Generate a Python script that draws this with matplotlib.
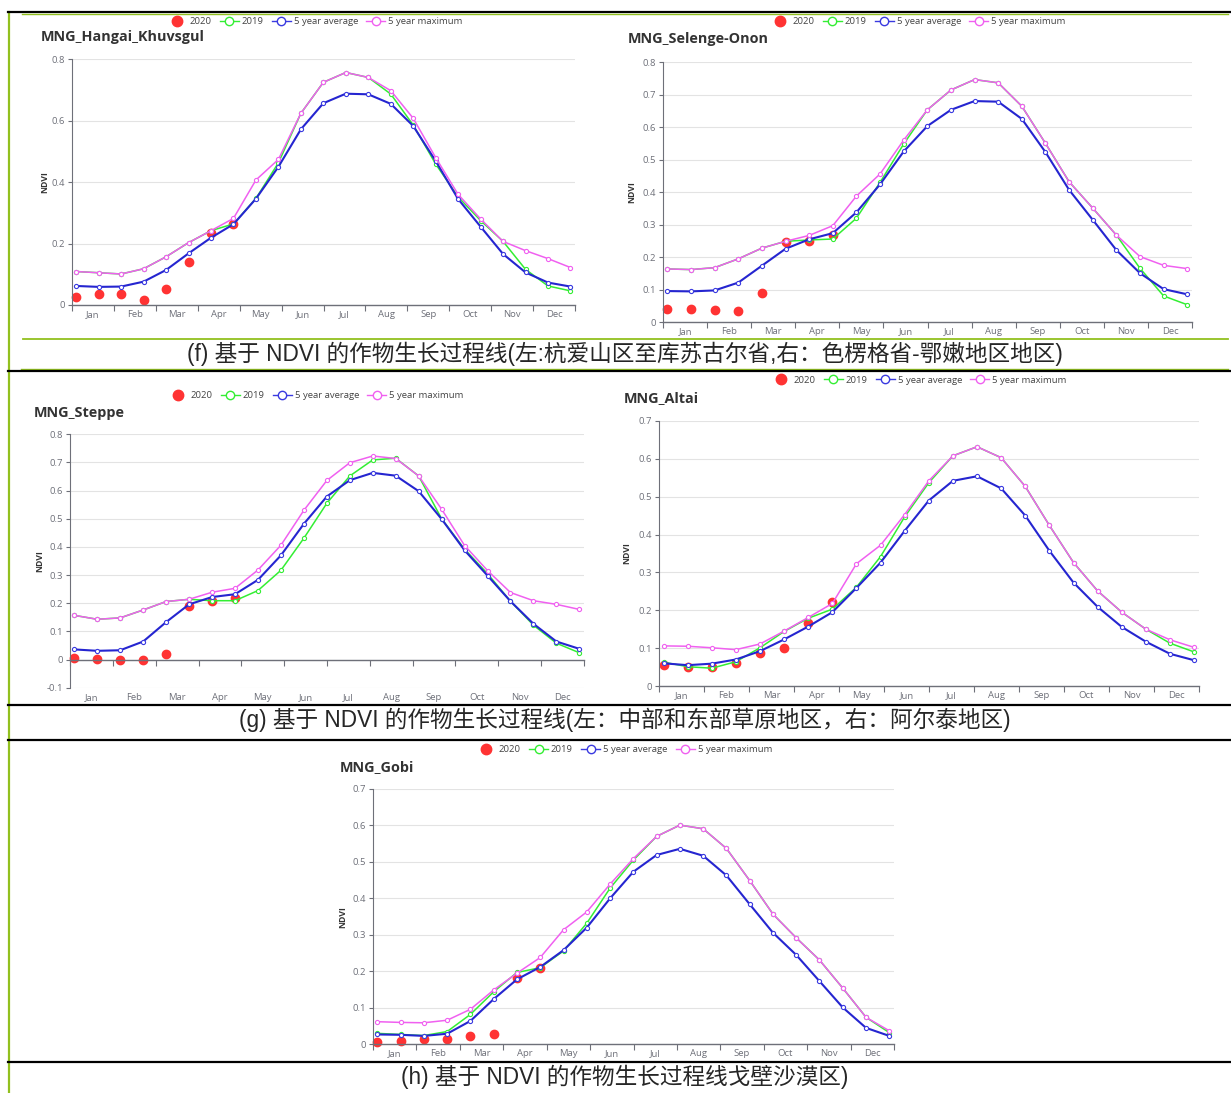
import numpy as np
import matplotlib
matplotlib.use('Agg')
import matplotlib.pyplot as plt
import matplotlib.transforms as mtransforms
from matplotlib.lines import Line2D

plt.rcParams['font.family'] = ['Open Sans', 'DejaVu Sans']
plt.rcParams['axes.unicode_minus'] = False

months = ['Jan', 'Feb', 'Mar', 'Apr', 'May', 'Jun', 'Jul', 'Aug', 'Sep', 'Oct', 'Nov', 'Dec']
legend_labels = ['2020', '2019', '5 year average', '5 year maximum']

# 23 sixteen-day NDVI composites per year, 2020 only has the first 8
hangai_2020 = [0.025, 0.035, 0.036, 0.015, 0.051, 0.141, 0.233, 0.264]
hangai_2019 = [0.109, 0.105, 0.101, 0.118, 0.157, 0.203, 0.242, 0.264, 0.347, 0.463, 0.624, 0.725,
               0.757, 0.741, 0.687, 0.586, 0.459, 0.352, 0.275, 0.207, 0.116, 0.062, 0.046]
hangai_avg = [0.062, 0.059, 0.060, 0.076, 0.114, 0.168, 0.219, 0.263, 0.346, 0.450, 0.572, 0.657,
              0.688, 0.686, 0.655, 0.583, 0.469, 0.345, 0.255, 0.166, 0.106, 0.073, 0.060]
hangai_max = [0.109, 0.105, 0.101, 0.118, 0.157, 0.203, 0.242, 0.282, 0.407, 0.474, 0.624, 0.725,
              0.757, 0.741, 0.698, 0.608, 0.480, 0.360, 0.280, 0.207, 0.177, 0.151, 0.122]

selenge_2020 = [0.041, 0.040, 0.038, 0.034, 0.089, 0.246, 0.251, 0.268]
selenge_2019 = [0.164, 0.162, 0.168, 0.195, 0.228, 0.249, 0.253, 0.256, 0.320, 0.430, 0.548, 0.653,
                0.714, 0.746, 0.736, 0.664, 0.550, 0.432, 0.351, 0.268, 0.166, 0.081, 0.054]
selenge_avg = [0.096, 0.095, 0.098, 0.122, 0.174, 0.226, 0.255, 0.274, 0.338, 0.424, 0.525, 0.603,
               0.653, 0.680, 0.678, 0.625, 0.523, 0.407, 0.315, 0.222, 0.151, 0.102, 0.086]
selenge_max = [0.164, 0.162, 0.168, 0.195, 0.228, 0.249, 0.267, 0.297, 0.388, 0.456, 0.560, 0.653,
               0.714, 0.746, 0.736, 0.664, 0.550, 0.432, 0.351, 0.268, 0.202, 0.175, 0.165]

steppe_2020 = [0.005, 0.001, -0.002, -0.002, 0.020, 0.191, 0.207, 0.219]
steppe_2019 = [0.157, 0.143, 0.148, 0.176, 0.206, 0.214, 0.209, 0.209, 0.245, 0.317, 0.431, 0.555,
               0.652, 0.709, 0.715, 0.652, 0.500, 0.392, 0.305, 0.207, 0.122, 0.058, 0.024]
steppe_avg = [0.036, 0.031, 0.033, 0.064, 0.133, 0.196, 0.222, 0.232, 0.283, 0.370, 0.482, 0.579,
              0.637, 0.663, 0.653, 0.598, 0.499, 0.388, 0.298, 0.207, 0.127, 0.064, 0.038]
steppe_max = [0.157, 0.143, 0.148, 0.176, 0.206, 0.214, 0.239, 0.253, 0.318, 0.406, 0.530, 0.636,
              0.699, 0.723, 0.714, 0.652, 0.534, 0.405, 0.316, 0.238, 0.209, 0.196, 0.178]

altai_2020 = [0.056, 0.049, 0.051, 0.060, 0.088, 0.101, 0.166, 0.223]
altai_2019 = [0.063, 0.051, 0.047, 0.064, 0.101, 0.144, 0.179, 0.203, 0.261, 0.342, 0.447, 0.537,
              0.608, 0.632, 0.603, 0.527, 0.424, 0.326, 0.251, 0.195, 0.150, 0.113, 0.090]
altai_avg = [0.060, 0.055, 0.059, 0.070, 0.092, 0.123, 0.157, 0.195, 0.259, 0.326, 0.410, 0.490,
             0.542, 0.554, 0.522, 0.450, 0.357, 0.273, 0.209, 0.156, 0.117, 0.085, 0.068]
altai_max = [0.106, 0.105, 0.101, 0.096, 0.111, 0.145, 0.181, 0.218, 0.323, 0.372, 0.453, 0.542,
             0.608, 0.632, 0.603, 0.527, 0.424, 0.326, 0.251, 0.195, 0.150, 0.122, 0.102]

gobi_2020 = [0.006, 0.010, 0.015, 0.015, 0.024, 0.027, 0.182, 0.209]
gobi_2019 = [0.030, 0.027, 0.024, 0.035, 0.082, 0.144, 0.197, 0.210, 0.256, 0.332, 0.428, 0.505,
             0.570, 0.601, 0.591, 0.537, 0.449, 0.357, 0.292, 0.231, 0.154, 0.074, 0.032]
gobi_avg = [0.027, 0.026, 0.023, 0.029, 0.064, 0.124, 0.178, 0.212, 0.258, 0.320, 0.400, 0.473,
            0.519, 0.536, 0.517, 0.463, 0.384, 0.306, 0.245, 0.173, 0.101, 0.045, 0.023]
gobi_max = [0.062, 0.060, 0.059, 0.066, 0.096, 0.149, 0.195, 0.238, 0.314, 0.363, 0.439, 0.509,
            0.570, 0.601, 0.591, 0.537, 0.449, 0.357, 0.292, 0.231, 0.154, 0.074, 0.037]

captions = ['(f) 基于 NDVI 的作物生长过程线(左:杭爱山区至库苏古尔省,右：色楞格省-鄂嫩地区地区)',
            '(g) 基于 NDVI 的作物生长过程线(左：中部和东部草原地区，右：阿尔泰地区)',
            '(h) 基于 NDVI 的作物生长过程线戈壁沙漠区)']

RED = '#ff3333'
GREEN = '#33ee33'
BLUE = '#2525d0'
PINK = '#f060f0'
AXIS = '#6e7079'
LINEGREEN = '#92c01f'

W, H = 1231, 1093
fig = plt.figure(figsize=(W / 100, H / 100), dpi=100)


def hline(y, x0, x1, color, lw):
    fig.add_artist(Line2D([x0 / W, x1 / W], [1 - y / H, 1 - y / H], color=color, lw=lw))


# page frame like the table in the source document
fig.add_artist(Line2D([8.7 / W, 8.7 / W], [1 - 12 / H, 0], color=LINEGREEN, lw=1.6))
hline(12, 8, W, 'black', 1.6)
hline(14, 22, 1228, LINEGREEN, 1.0)
hline(339, 23, 1228, LINEGREEN, 1.3)
hline(369, 21, 1228, LINEGREEN, 1.0)
hline(371, 8, W, 'black', 1.6)
hline(705, 8, W, 'black', 1.6)
hline(740, 8, W, 'black', 1.6)
hline(1062, 8, W, 'black', 1.6)

for txt, cy in zip(captions, [354, 720, 1077]):
    fig.text(625 / W, 1 - cy / H, txt, ha='center', va='center', fontsize=16.3, color='#262626',
             family=['Liberation Sans', 'Noto Sans CJK SC'])


def fmt(v):
    if abs(v) < 1e-9:
        return '0'
    return '%.1f' % v


def draw(title, box, ylim, ystep, title_xy, legend_xy, ylabel_x, s2020, s2019, savg, smax):
    left, right, top, bottom = box
    ax = fig.add_axes([left / W, 1 - bottom / H, (right - left) / W, (bottom - top) / H])
    x = 0.1 + 0.536 * np.arange(23)
    ax.plot(x[:len(s2020)], s2020, 'o', color=RED, ms=6, zorder=2, clip_on=False)
    ax.plot(x, s2019, color=GREEN, lw=1.1, marker='o', ms=3, mfc='white', mec=GREEN, mew=0.8,
            zorder=3, clip_on=False)
    ax.plot(x, savg, color=BLUE, lw=1.5, marker='o', ms=3, mfc='white', mec='#3a3ae0', mew=0.8,
            zorder=4, clip_on=False)
    ax.plot(x, smax, color=PINK, lw=1.1, marker='o', ms=3, mfc='white', mec=PINK, mew=0.8,
            zorder=5, clip_on=False)

    ax.set_xlim(0, 12)
    ax.set_ylim(*ylim)
    yt = np.round(np.arange(ylim[0], ylim[1] + 1e-9, ystep), 2)
    ax.set_yticks(yt)
    ax.set_yticklabels([fmt(v) for v in yt])
    ax.set_xticks(range(13))
    ax.set_xticklabels([])
    ax.grid(axis='y', color='#e3e3e3', lw=0.8)
    ax.set_axisbelow(True)
    for s in ['top', 'right']:
        ax.spines[s].set_visible(False)
    ax.spines['left'].set_color(AXIS)
    ax.spines['bottom'].set_color(AXIS)
    ax.spines['left'].set_linewidth(0.8)
    ax.spines['bottom'].set_linewidth(1.0)
    ax.spines['bottom'].set_position(('data', 0))
    ax.tick_params(axis='y', length=3, width=0.8, color=AXIS, labelcolor=AXIS, labelsize=6.8, pad=2)
    ax.tick_params(axis='x', length=4, width=0.8, color=AXIS)

    trans = mtransforms.offset_copy(ax.get_xaxis_transform(), fig=fig, y=-5, units='dots')
    for i, m in enumerate(months):
        ax.text(i + 0.5, 0, m, transform=trans, ha='center', va='top', fontsize=6.8, color=AXIS)

    fig.text(ylabel_x / W, 1 - (top + bottom) / 2 / H, 'NDVI', rotation=90, ha='center', va='center',
             fontsize=6.3, fontweight='bold', color='#333333')
    fig.text(title_xy[0] / W, 1 - title_xy[1] / H, title, ha='left', va='center', fontsize=10.4,
             fontweight='bold', color='#333333')

    handles = [Line2D([], [], ls='none', marker='o', ms=7.5, color=RED),
               Line2D([], [], color=GREEN, lw=1, marker='o', ms=6, mfc='white', mec=GREEN),
               Line2D([], [], color='#3a3ae0', lw=1, marker='o', ms=6, mfc='white', mec='#3a3ae0'),
               Line2D([], [], color=PINK, lw=1, marker='o', ms=6, mfc='white', mec=PINK)]
    ax.legend(handles, legend_labels, loc='center', bbox_to_anchor=(legend_xy[0] / W, 1 - legend_xy[1] / H),
              bbox_transform=fig.transFigure, ncol=4, frameon=False, fontsize=6.8, handlelength=2.0,
              handletextpad=0.3, columnspacing=0.9, borderaxespad=0, labelcolor='#444444')
    return ax


draw('MNG_Hangai_Khuvsgul', (72, 575, 59.3, 305), (0, 0.8), 0.2, (41, 37.3), (315, 21.7), 44.8,
     hangai_2020, hangai_2019, hangai_avg, hangai_max)
draw('MNG_Selenge-Onon', (663, 1192, 62, 322.3), (0, 0.8), 0.1, (628, 39.3), (918, 22), 631.4,
     selenge_2020, selenge_2019, selenge_avg, selenge_max)
draw('MNG_Steppe', (70, 584, 434.3, 687.7), (-0.1, 0.8), 0.1, (33.7, 412.7), (316, 395.7), 39.4,
     steppe_2020, steppe_2019, steppe_avg, steppe_max)
draw('MNG_Altai', (659, 1199, 421, 686), (0, 0.7), 0.1, (624, 397.7), (919, 380.3), 626.6,
     altai_2020, altai_2019, altai_avg, altai_max)
draw('MNG_Gobi', (373, 894, 789, 1044.3), (0, 0.7), 0.1, (339.5, 766.7), (624.5, 750), 342.3,
     gobi_2020, gobi_2019, gobi_avg, gobi_max)

fig.savefig('out.png', dpi=100)
